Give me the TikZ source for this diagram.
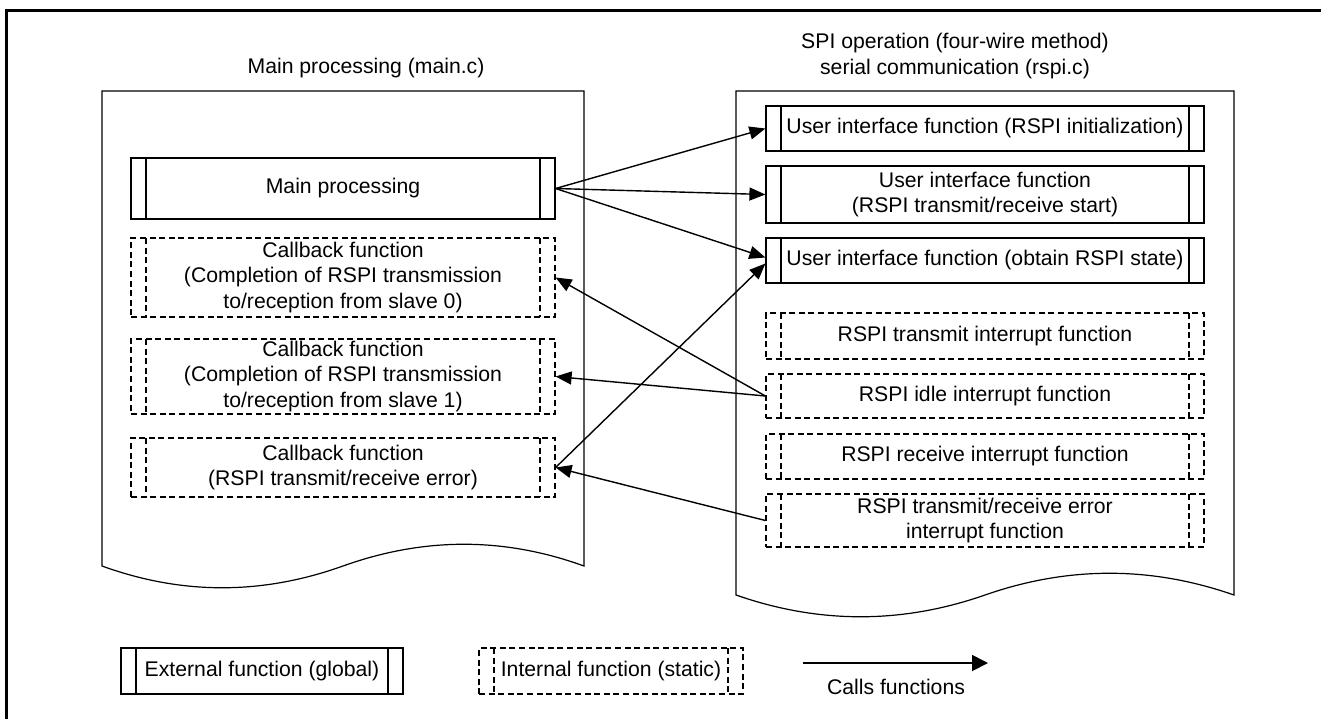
\documentclass[tikz,border=0pt]{standalone}
\usepackage{fontspec}
\setmainfont{Liberation Sans}
\usetikzlibrary{arrows.meta}
\newcommand\fnstrips[1]{\draw[line width=0.6pt,#1] ([xshift=7.5pt]path picture bounding box.north west) -- ([xshift=7.5pt]path picture bounding box.south west) ([xshift=-7.5pt]path picture bounding box.north east) -- ([xshift=-7.5pt]path picture bounding box.south east);}
\begin{document}
\begin{tikzpicture}[x=0.5pt,y=-0.5pt,font=\fontsize{10.6}{12.7}\selectfont,
	box/.style={draw,line width=0.6pt,align=center,inner sep=0pt},
	ext/.style={box,path picture={\fnstrips{solid}}},
	int/.style={box,dash pattern=on 3pt off 1.8pt,path picture={\fnstrips{dash pattern=on 3pt off 1.8pt}}},
	lw/.style={minimum width=212pt,minimum height=#1},
	rw/.style={minimum width=219pt,minimum height=#1},
	call/.style={-{Triangle[length=8pt,width=6.5pt]},line width=0.7pt}]
	\useasboundingbox (0,0) rectangle (1321,718);
	\draw[line width=1.5pt] (6,730) -- (6,10) -- (1330,10);
	\draw[line width=0.6pt] (102,566) -- (102,91) -- (584,91) -- (584,566) .. controls (504,537) and (424,537) .. (343,566) .. controls (262,595) and (182,595) .. (102,566) -- cycle;
	\draw[line width=0.6pt] (736,595) -- (736,91) -- (1234,91) -- (1234,595) .. controls (1151,566) and (1068,566) .. (985,595) .. controls (902,624) and (819,624) .. (736,595) -- cycle;
	\node (maintitle) at (366,68) {Main processing (main.c)};
	\node[align=center] (rspititle) at (955,56) {SPI operation (four-wire method)\\serial communication (rspi.c)};
	\node[ext,lw=30.5pt] (main) at (343,188.5) {Main processing};
	\node[int,lw=39.5pt] (cbslave0) at (343,277.5) {Callback function\\(Completion of RSPI transmission\\to/reception from slave 0)};
	\node[int,lw=37.5pt] (cbslave1) at (343,376.5) {Callback function\\(Completion of RSPI transmission\\to/reception from slave 1)};
	\node[int,lw=29.5pt] (cberror) at (343,467.5) {Callback function\\(RSPI transmit/receive error)};
	\node[ext,rw=22.5pt] (uifinit) at (985,128.5) {User interface function (RSPI initialization)};
	\node[ext,rw=28.5pt] (uifstart) at (985,194.5) {User interface function\\(RSPI transmit/receive start)};
	\node[ext,rw=22.5pt] (uifstate) at (985,260.5) {User interface function (obtain RSPI state)};
	\node[int,rw=23pt] (txint) at (985,336) {RSPI transmit interrupt function};
	\node[int,rw=22pt] (idleint) at (985,396) {RSPI idle interrupt function};
	\node[int,rw=22.5pt] (rxint) at (985,456.5) {RSPI receive interrupt function};
	\node[int,rw=26.5pt] (errint) at (985,520.5) {RSPI transmit/receive error\\interrupt function};
	\draw[call] (main.east) -- (uifinit.west);
	\draw[call] (main.east) -- (uifstart.west);
	\draw[call] (main.east) -- ([yshift=1.5pt]uifstate.west);
	\draw[call] (idleint.west) -- (cbslave0.east);
	\draw[call] (idleint.west) -- (cbslave1.east);
	\draw[call] (errint.west) -- (cberror.east);
	\draw[call] (cberror.east) -- ([yshift=-1.5pt]uifstate.west);
	\node[ext,minimum width=141pt,minimum height=23pt] (legext) at (262,671) {External function (global)};
	\node[int,minimum width=132pt,minimum height=23pt] (legint) at (611,671) {Internal function (static)};
	\coordinate (callsA) at (803,663);
	\coordinate (callsB) at (988,663);
	\draw[call,line width=0.9pt,-{Triangle[length=8pt,width=8pt]}] (callsA) -- (callsB);
	\node (callslbl) at (896,687) {Calls functions};
\end{tikzpicture}
\end{document}
